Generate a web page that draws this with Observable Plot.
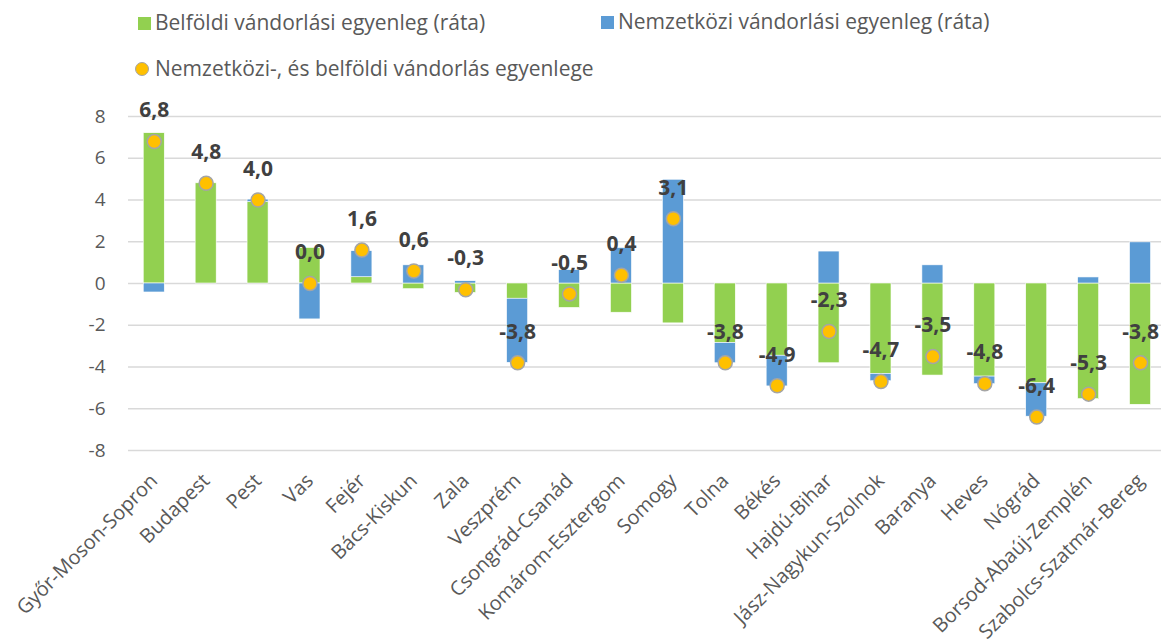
<!DOCTYPE html>
<html>
<head>
<meta charset="utf-8">
<script src="https://cdn.jsdelivr.net/npm/d3@7"></script>
<script src="https://cdn.jsdelivr.net/npm/@observablehq/plot@0.6"></script>
<style>
  html, body { margin: 0; padding: 0; background: #fff; }
  body { width: 1162px; height: 643px; overflow: hidden; font-family: "Open Sans", sans-serif; }
  #legend { position: relative; height: 95px; color: #595959; font-size: 21px; }
  #legend .sw { position: absolute; box-sizing: border-box; }
  #legend .tx { position: absolute; line-height: 28px; white-space: nowrap; }
  svg { display: block; }
</style>
</head>
<body>
<div id="legend"></div>
<div id="chart"></div>
<script>
const regions = ["Győr-Moson-Sopron","Budapest","Pest","Vas","Fejér","Bács-Kiskun","Zala","Veszprém","Csongrád-Csanád","Komárom-Esztergom","Somogy","Tolna","Békés","Hajdú-Bihar","Jász-Nagykun-Szolnok","Baranya","Heves","Nógrád","Borsod-Abaúj-Zemplén","Szabolcs-Szatmár-Bereg"];
const domestic = [7.2, 4.8, 3.9, 1.7, 0.3, -0.27, -0.45, -0.73, -1.17, -1.4, -1.91, -2.85, -3.46, -3.82, -4.33, -4.41, -4.46, -4.78, -5.54, -5.81];
const international = [-0.43, 0, 0.12, -1.72, 1.25, 0.87, 0.11, -3.07, 0.64, 1.7, 4.97, -0.97, -1.47, 1.53, -0.35, 0.87, -0.36, -1.6, 0.29, 1.97];
const total = [6.8, 4.8, 4.0, 0.0, 1.6, 0.6, -0.3, -3.8, -0.5, 0.4, 3.1, -3.8, -4.9, -2.3, -4.7, -3.5, -4.8, -6.4, -5.3, -3.8];
const seriesNames = ["Belföldi vándorlási egyenleg (ráta)", "Nemzetközi vándorlási egyenleg (ráta)"];
const totalName = "Nemzetközi-, és belföldi vándorlás egyenlege";
const seriesColors = ["#92D050", "#5B9BD5"];
const dotColor = "#FFC000";
const yTicks = [-8, -6, -4, -2, 0, 2, 4, 6, 8];

// legend
const legend = document.getElementById("legend");
const legendItems = [
  {name: seriesNames[0], color: seriesColors[0], x: 138, y: 23, shape: "square"},
  {name: seriesNames[1], color: seriesColors[1], x: 601, y: 22, shape: "square"},
  {name: totalName, color: dotColor, x: 135, y: 69, shape: "circle"}
];
for (const it of legendItems) {
  const sw = document.createElement("span");
  sw.className = "sw";
  if (it.shape === "square") {
    Object.assign(sw.style, {left: it.x + "px", top: (it.y - 6) + "px", width: "13px", height: "13px", background: it.color});
  } else {
    Object.assign(sw.style, {left: it.x + "px", top: (it.y - 7) + "px", width: "14px", height: "14px", background: it.color, borderRadius: "50%", border: "1.5px solid #A5A5A5"});
  }
  legend.appendChild(sw);
  const tx = document.createElement("span");
  tx.className = "tx";
  tx.textContent = it.name;
  Object.assign(tx.style, {left: (it.x + (it.shape === "square" ? 17 : 20)) + "px", top: (it.y - 15) + "px"});
  legend.appendChild(tx);
}

const barData = [];
seriesNames.forEach((s, k) => {
  const vals = k === 0 ? domestic : international;
  regions.forEach((r, i) => barData.push({region: r, series: s, value: vals[i]}));
});
const dotData = regions.map((r, i) => ({region: r, total: total[i]}));
const fmt = v => v.toFixed(1).replace(".", ",");

const chart = Plot.plot({
  width: 1162,
  height: 548,
  marginLeft: 128,
  marginRight: 1,
  marginTop: 21,
  marginBottom: 193,
  style: {fontFamily: "'Open Sans', sans-serif", background: "#fff"},
  x: {domain: regions, range: [127.8, 1166], paddingInner: 0.595, paddingOuter: 0.2975, round: false, label: null},
  y: {domain: [-8, 8], label: null},
  color: {domain: seriesNames, range: seriesColors},
  marks: [
    Plot.gridY(yTicks, {stroke: "#D9D9D9", strokeOpacity: 1, strokeWidth: 1.5}),
    Plot.axisY(yTicks, {tickSize: 0, tickPadding: 23, tickFormat: d => String(d), fontSize: 19, fill: "#595959", label: null}),
    Plot.axisX({tickSize: 0, tickRotate: -45, tickPadding: 27, fontSize: 20, fill: "#595959", label: null}),
    Plot.barY(barData, {x: "region", y: "value", fill: "series", stroke: "#fff", strokeWidth: 0.6}),
    Plot.dot(dotData, {x: "region", y: "total", r: 7, fill: dotColor, stroke: "#A5A5A5", strokeWidth: 1.5}),
    Plot.text(dotData, {x: "region", y: "total", text: d => fmt(d.total), dy: -31, fontWeight: "bold", fontSize: 21, fill: "#404040"})
  ]
});
document.getElementById("chart").appendChild(chart);
</script>
</body>
</html>
